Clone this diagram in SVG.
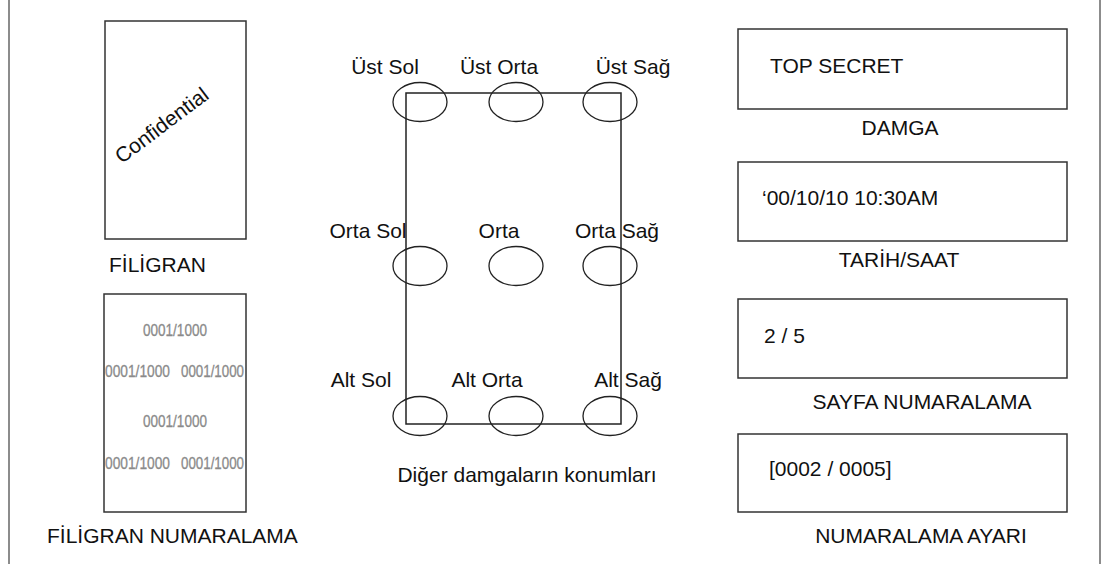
<svg xmlns="http://www.w3.org/2000/svg" width="1106" height="564" viewBox="0 0 1106 564">
<style>
text{font-family:"Liberation Sans",Arial,sans-serif;font-size:21px;fill:#111}
.box{fill:#fff;stroke:#333;stroke-width:1.5}
.ell{fill:none;stroke:#222;stroke-width:1.3}
.num{font-size:17px;fill:#8a8a8a;stroke:#8a8a8a;stroke-width:0.3}
.mid{text-anchor:middle}
.border{stroke:#666;stroke-width:1.5}
</style>
<rect width="1106" height="564" fill="#fff"/>
<g id="frame">
<line class="border" x1="9" y1="0" x2="9" y2="564"/>
<line class="border" x1="1100" y1="0" x2="1100" y2="564"/>
</g>
<g id="filigran">
<rect class="box" x="105" y="21" width="141" height="218"/>
<text class="mid" transform="translate(166,131) rotate(-37)">Confidential</text>
<text x="109" y="272">FİLİGRAN</text>
</g>
<g id="filigran-numaralama">
<rect class="box" x="104" y="294" width="142" height="218"/>
<text class="num" x="143" y="336" textLength="64" lengthAdjust="spacingAndGlyphs">0001/1000</text>
<text class="num" x="105" y="377" textLength="65" lengthAdjust="spacingAndGlyphs">0001/1000</text>
<text class="num" x="181" y="377" textLength="63" lengthAdjust="spacingAndGlyphs">0001/1000</text>
<text class="num" x="143" y="427" textLength="64" lengthAdjust="spacingAndGlyphs">0001/1000</text>
<text class="num" x="105" y="469" textLength="65" lengthAdjust="spacingAndGlyphs">0001/1000</text>
<text class="num" x="181" y="469" textLength="63" lengthAdjust="spacingAndGlyphs">0001/1000</text>
<text x="47" y="543">FİLİGRAN NUMARALAMA</text>
</g>
<g id="konumlar">
<rect fill="none" stroke="#222" stroke-width="1.5" x="406" y="93" width="215" height="331"/>
<ellipse class="ell" cx="420" cy="102" rx="27" ry="19.5"/>
<ellipse class="ell" cx="516" cy="102" rx="27" ry="19.5"/>
<ellipse class="ell" cx="610" cy="102" rx="27" ry="19.5"/>
<ellipse class="ell" cx="420" cy="266" rx="27" ry="19.5"/>
<ellipse class="ell" cx="516" cy="266" rx="27" ry="19.5"/>
<ellipse class="ell" cx="610" cy="266" rx="27" ry="19.5"/>
<ellipse class="ell" cx="420" cy="416" rx="27" ry="19.5"/>
<ellipse class="ell" cx="516" cy="416" rx="27" ry="19.5"/>
<ellipse class="ell" cx="610" cy="416" rx="27" ry="19.5"/>
<text class="mid" x="385" y="74">Üst Sol</text>
<text class="mid" x="499" y="74">Üst Orta</text>
<text class="mid" x="633" y="74">Üst Sağ</text>
<text class="mid" x="368" y="238">Orta Sol</text>
<text class="mid" x="499" y="238">Orta</text>
<text class="mid" x="617" y="238">Orta Sağ</text>
<text class="mid" x="361" y="387">Alt Sol</text>
<text class="mid" x="487" y="387">Alt Orta</text>
<text class="mid" x="628" y="387">Alt Sağ</text>
<text class="mid" x="527" y="482">Diğer damgaların konumları</text>
</g>
<g id="damga">
<rect class="box" x="738" y="29" width="329" height="80"/>
<text x="770" y="73">TOP SECRET</text>
<text class="mid" x="900" y="135">DAMGA</text>
</g>
<g id="tarih-saat">
<rect class="box" x="738" y="162" width="329" height="79"/>
<text x="762" y="205">‘00/10/10 10:30AM</text>
<text class="mid" x="899" y="267">TARİH/SAAT</text>
</g>
<g id="sayfa-numaralama">
<rect class="box" x="738" y="299" width="329" height="79"/>
<text x="764" y="343">2 / 5</text>
<text class="mid" x="922" y="409">SAYFA NUMARALAMA</text>
</g>
<g id="numaralama-ayari">
<rect class="box" x="738" y="434" width="329" height="78"/>
<text x="769" y="476">[0002 / 0005]</text>
<text class="mid" x="921" y="543">NUMARALAMA AYARI</text>
</g>
<g id="connectors"/>
</svg>
